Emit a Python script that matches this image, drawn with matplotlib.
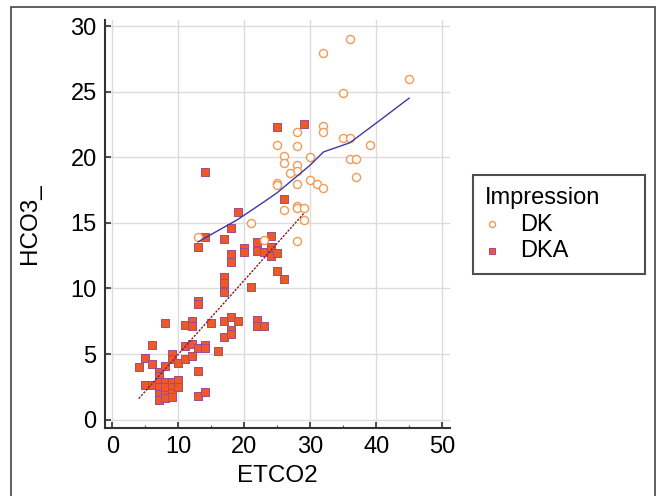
import matplotlib.pyplot as plt
from matplotlib.patches import Rectangle
from matplotlib.ticker import MultipleLocator

plt.rcParams['font.family'] = ['Liberation Sans', 'DejaVu Sans']

# ------------------------------
# Datos
# ------------------------------
dk_etco2 = [36, 32, 45, 35, 32, 32, 28, 35, 36, 39, 25, 28, 26, 30, 26, 28, 28, 27,
            36, 37, 37, 30, 31, 32, 28, 25, 25, 21, 26, 28, 28, 29, 29, 28, 13, 23]
dk_hco3 = [29.0, 27.95, 26.0, 24.9, 22.4, 21.95, 21.95, 21.45, 21.45, 20.95, 20.95, 20.85,
           20.1, 20.0, 19.55, 19.4, 18.95, 18.8, 19.85, 19.85, 18.5, 18.3, 17.95, 17.65,
           17.95, 18.05, 17.9, 15.0, 16.0, 16.3, 16.1, 16.1, 15.2, 13.6, 13.9, 13.7]

dka_etco2 = [4, 5, 5, 6, 6, 6, 7, 7, 7, 7, 7, 7, 8, 8, 8, 8, 8, 8, 9, 9, 9, 9, 9, 9,
             10, 10, 10, 11, 11, 11, 12, 12, 12, 12, 13, 13, 13, 13, 13, 13, 14, 14, 14,
             14, 14, 15, 16, 17, 17, 17, 17, 17, 17, 18, 18, 18, 18, 18, 18, 19, 19, 20,
             20, 21, 22, 22, 22, 22, 23, 23, 24, 24, 24, 25, 25, 25, 26, 26, 29]
dka_hco3 = [4.0, 4.7, 2.6, 5.7, 4.25, 2.6, 3.65, 3.3, 2.9, 2.45, 1.95, 1.5, 7.4, 4.05,
            2.9, 2.5, 1.9, 1.65, 5.0, 4.65, 2.85, 2.45, 2.0, 1.75, 4.3, 3.0, 2.5, 7.2,
            5.6, 4.6, 7.5, 7.15, 5.8, 4.85, 13.15, 9.05, 8.8, 5.45, 3.7, 1.8, 18.9, 13.9,
            5.7, 5.45, 2.1, 7.4, 5.2, 13.8, 10.9, 10.45, 9.7, 7.5, 6.3, 14.6, 12.6, 12.05,
            7.8, 6.8, 6.5, 15.8, 7.5, 13.05, 12.75, 10.1, 13.5, 12.85, 7.6, 7.1, 12.75,
            7.1, 14.0, 13.15, 12.45, 22.3, 12.7, 11.3, 16.8, 10.7, 22.5]

# curva suavizada (DK) y recta ajustada (DKA)
loess_x = [13, 19, 23, 25, 30, 32, 36, 40, 45]
loess_y = [13.55, 15.25, 16.6, 17.3, 19.4, 20.4, 21.1, 22.6, 24.5]
fit_x = [4, 29]
fit_y = [1.6, 15.7]

# ------------------------------
# Gráfica
# ------------------------------
fig = plt.figure(figsize=(6.57, 4.96), dpi=100)
ax = fig.add_axes([105 / 657, 1 - 428 / 496, 345 / 657, 408 / 496])

ax.grid(True, color='#dcdcdc', linewidth=1.0)
ax.set_axisbelow(True)

ax.scatter(dka_etco2, dka_hco3, marker='s', s=32, facecolor='#ef5925',
           edgecolor='#a04a8c', linewidth=0.7, label='DKA', zorder=3)
ax.scatter(dk_etco2, dk_hco3, marker='o', s=34, facecolor='white',
           edgecolor='#f49a55', linewidth=1.0, label='DK', zorder=4)
ax.plot(loess_x, loess_y, color='#3a3aa8', linewidth=1.0, zorder=5)
ax.plot(fit_x, fit_y, color='#8b1a1a', linewidth=1.0, linestyle=(0, (1.6, 1.0)), zorder=5)

ax.set_xlim(-1.12, 51.2)
ax.set_ylim(-0.64, 30.46)
ax.xaxis.set_major_locator(MultipleLocator(10))
ax.xaxis.set_minor_locator(MultipleLocator(5))
ax.yaxis.set_major_locator(MultipleLocator(5))

for s in ['top', 'right']:
    ax.spines[s].set_visible(False)
for s in ['left', 'bottom']:
    ax.spines[s].set_color('#333333')
    ax.spines[s].set_linewidth(1.5)

ax.tick_params(axis='both', which='major', direction='in', length=4, width=1.2,
               color='#333333', labelsize=17, pad=6)
ax.tick_params(axis='x', which='minor', direction='in', length=2, width=0.8, color='#555555')

ax.set_xlabel('ETCO2', fontsize=17.5, labelpad=5)
ax.set_ylabel('HCO3_', fontsize=17.5, labelpad=21)

handles, labels = ax.get_legend_handles_labels()
leg = ax.legend(handles[::-1], labels[::-1], title='Impression', loc='upper left',
                bbox_to_anchor=(473 / 657, 1 - 272 / 496, 172 / 657, 97 / 496),
                bbox_transform=fig.transFigure, mode='expand', borderaxespad=0,
                fontsize=17, title_fontsize=17, frameon=True, fancybox=False,
                markerscale=0.75, handlelength=0.6, handletextpad=0.9,
                borderpad=0.5, labelspacing=0.2)
leg._legend_box.align = 'left'
leg.get_frame().set_edgecolor('#222222')
leg.get_frame().set_linewidth(1.5)

# marco exterior
fig.patches.append(Rectangle((11 / 657, -0.02), 644 / 657, 1 - 7 / 496 + 0.02,
                             transform=fig.transFigure, fill=False,
                             edgecolor='#444444', linewidth=1.2))

fig.savefig('out.png', dpi=100)
